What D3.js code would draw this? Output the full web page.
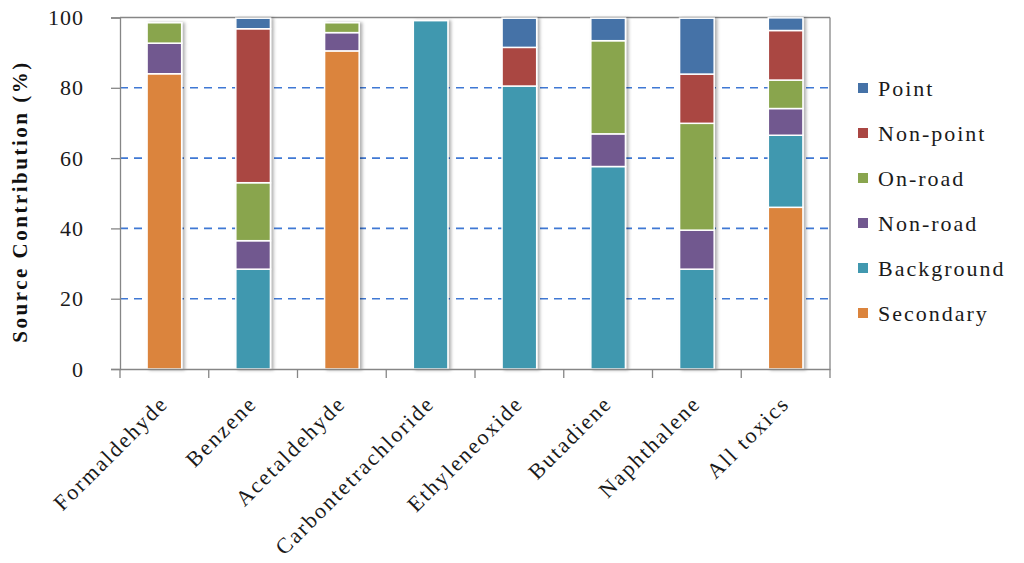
<!DOCTYPE html>
<html><head><meta charset="utf-8">
<script src="https://cdn.jsdelivr.net/npm/d3@7"></script>
<style>body{margin:0;background:#fff}svg{display:block}</style>
</head><body>
<svg id="chart" width="1024" height="563"></svg>
<script>
const categories = ["Formaldehyde","Benzene","Acetaldehyde","Carbontetrachloride","Ethyleneoxide","Butadiene","Naphthalene","All toxics"];
const seriesNames = ["Secondary","Background","Non-road","On-road","Non-point","Point"];
const secondary  = [84.0, 0,    90.5, 0,    0,    0,    0,    46.0];
const background = [0,    28.4, 0,    99.1, 80.5, 57.6, 28.4, 20.5];
const nonRoad    = [8.7,  8.1,  5.2,  0,    0,    9.3,  11.1, 7.6];
const onRoad     = [5.8,  16.5, 2.8,  0,    0,    26.5, 30.4, 8.1];
const nonPoint   = [0,    43.8, 0,    0,    11.0, 0,    14.0, 14.1];
const point      = [0,    3.0,  0,    0,    8.3,  6.4,  15.9, 3.6];
const yTicks = [0,20,40,60,80,100];
const legendOrder = ["Point","Non-point","On-road","Non-road","Background","Secondary"];
const colors = {"Secondary":"#DB843D","Background":"#4198AF","Non-road":"#71588F","On-road":"#89A54E","Non-point":"#AA4643","Point":"#4572A7"};

const seriesValues = [secondary, background, nonRoad, onRoad, nonPoint, point];
const rows = categories.map((c,i)=>{const r={cat:c}; seriesNames.forEach((s,j)=>r[s]=seriesValues[j][i]); return r;});

const svg = d3.select("#chart");
const L=120, R=830, T=17.5, B=369;
const x = d3.scaleBand().domain(categories).range([L,R]).padding(0);
const y = d3.scaleLinear().domain([0,100]).range([B,T]);
const font = "'Liberation Serif','Times New Roman',serif";

const defs = svg.append("defs");
const f = defs.append("filter").attr("id","sh").attr("x","-30%").attr("y","-5%").attr("width","160%").attr("height","110%");
f.append("feDropShadow").attr("dx",2.5).attr("dy",0.5).attr("stdDeviation",1.6).attr("flood-color","#000").attr("flood-opacity",0.3);

// plot border top/right
svg.append("line").attr("x1",L).attr("x2",R).attr("y1",y(100)).attr("y2",y(100)).attr("stroke","#868686").attr("stroke-width",1.3);
svg.append("line").attr("x1",R).attr("x2",R).attr("y1",y(100)).attr("y2",B).attr("stroke","#868686").attr("stroke-width",1.3);

// gridlines
svg.append("g").selectAll("line").data(yTicks.filter(d=>d>0&&d<100)).join("line")
  .attr("x1",L).attr("x2",R).attr("y1",d=>y(d)).attr("y2",d=>y(d))
  .attr("stroke","#3F78D4").attr("stroke-width",1.6).attr("stroke-dasharray","8,6");

// bars
const stack = d3.stack().keys(seriesNames)(rows);
const bw = x.bandwidth()*0.39;
const gBars = svg.append("g").attr("filter","url(#sh)");
stack.forEach(layer=>{
  gBars.append("g").attr("fill",colors[layer.key]).selectAll("rect")
    .data(layer.filter(d=>d[1]-d[0]>0)).join("rect")
    .attr("x",d=>x(d.data.cat)+x.bandwidth()/2-bw/2)
    .attr("width",bw)
    .attr("y",d=>y(d[1]))
    .attr("height",d=>y(d[0])-y(d[1]))
    .attr("stroke","#fff").attr("stroke-width",1.5);
});

// y axis
const ya = svg.append("g").attr("transform",`translate(${L},0)`)
  .call(d3.axisLeft(y).tickValues(yTicks).tickSize(9).tickPadding(27));
ya.select(".domain").attr("stroke","#868686").attr("stroke-width",1.3);
ya.selectAll(".tick line").attr("stroke","#868686").attr("stroke-width",1.3);
ya.selectAll("text").attr("font-family",font).attr("font-size","22px").attr("fill","#1a1a1a").attr("letter-spacing","1px");

// x axis
const xa = svg.append("g").attr("transform",`translate(0,${B})`)
  .call(d3.axisBottom(x).tickSize(0).tickFormat(""));
xa.select(".domain").attr("stroke","#868686").attr("stroke-width",1.3);
const edges = categories.map(c=>x(c)).concat([R]);
svg.append("g").selectAll("line").data(edges).join("line")
  .attr("x1",d=>d).attr("x2",d=>d).attr("y1",B).attr("y2",B+9)
  .attr("stroke","#868686").attr("stroke-width",1.3);

svg.append("g").selectAll("text").data(categories).join("text")
  .attr("transform",d=>`translate(${x(d)+x.bandwidth()/2+5},${B+36}) rotate(-45)`)
  .attr("text-anchor","end").attr("font-family",font).attr("font-size","22px")
  .attr("letter-spacing","2px").attr("fill","#1a1a1a").text(d=>d);

// y title
svg.append("text").attr("transform",`translate(27,${(55+348)/2}) rotate(-90)`)
  .attr("text-anchor","middle").attr("font-family",font).attr("font-size","21px")
  .attr("font-weight","bold").attr("letter-spacing","2.5px").attr("fill","#111")
  .text("Source  Contribution  (%)");

// legend
const lg = svg.append("g").selectAll("g").data(legendOrder).join("g")
  .attr("transform",(d,i)=>`translate(858,${88+i*45})`);
lg.append("rect").attr("x",0).attr("y",-5).attr("width",10).attr("height",10).attr("fill",d=>colors[d]);
lg.append("text").attr("x",20).attr("y",8).attr("font-family",font).attr("font-size","22px")
  .attr("letter-spacing","2px").attr("fill","#1a1a1a").text(d=>d);
</script>
</body></html>
